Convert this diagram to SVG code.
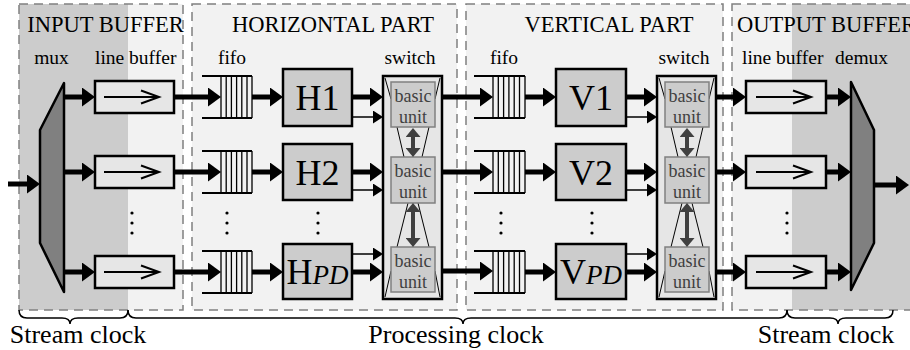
<svg xmlns="http://www.w3.org/2000/svg" width="910" height="350" viewBox="0 0 910 350">
<style>
text{font-family:"Liberation Serif","Times New Roman",serif;fill:#000}
.title{font-size:22.5px}
.lab{font-size:19.5px}
.clk{font-size:26px;text-anchor:middle}
.big{font-size:36px;text-anchor:middle}
.bu{font-size:18px;text-anchor:middle;fill:#404040}
.dash{fill:none;stroke:#808080;stroke-width:1.5;stroke-dasharray:9 6}
.lb{fill:#e6e6e6;stroke:#000;stroke-width:2.5}
.pe{fill:#cccccc;stroke:#000;stroke-width:2.5}
.sw{fill:#e6e6e6;stroke:#000;stroke-width:2.5}
.unit{fill:#cccccc;stroke:#808080;stroke-width:1.5}
.mx{fill:#808080;stroke:#000;stroke-width:2.5;stroke-linejoin:round}
.ff{fill:none;stroke:#000;stroke-width:2}
.fs{fill:none;stroke:#000;stroke-width:1.3}
.fn{fill:none;stroke:#000;stroke-width:1}
.ia{fill:none;stroke:#000;stroke-width:2}
.th{stroke:#000;stroke-width:5;fill:none;marker-end:url(#ah)}
.tn{stroke:#000;stroke-width:1.5;fill:none;marker-end:url(#as)}
.da{stroke:#404040;stroke-width:4;fill:none;marker-start:url(#ad);marker-end:url(#ad)}
.br{fill:none;stroke:#000;stroke-width:1.5}
.dot{fill:#000}
</style>
<defs>
<marker id="ah" markerUnits="userSpaceOnUse" markerWidth="13" markerHeight="19" refX="8" refY="9.5" orient="auto"><path d="M0,0 L13,9.5 L0,19 Z" fill="#000"/></marker>
<marker id="as" markerUnits="userSpaceOnUse" markerWidth="10" markerHeight="13" refX="7" refY="6.5" orient="auto"><path d="M0,0 L10,6.5 L0,13 Z" fill="#000"/></marker>
<marker id="ad" markerUnits="userSpaceOnUse" markerWidth="9" markerHeight="15" refX="5" refY="7.5" orient="auto-start-reverse"><path d="M0,0 L9,7.5 L0,15 Z" fill="#404040"/></marker>
</defs>

<g id="backgrounds">
<rect x="19" y="4" width="109" height="306" fill="#cccccc"/>
<rect x="128" y="4" width="55" height="306" fill="#f2f2f2"/>
<rect x="192" y="4" width="265" height="306" fill="#f2f2f2"/>
<rect x="466" y="4" width="257" height="306" fill="#f2f2f2"/>
<rect x="732" y="4" width="60" height="306" fill="#f2f2f2"/>
<rect x="792" y="4" width="130" height="306" fill="#cccccc"/>
<rect class="dash" x="19" y="4" width="164" height="306"/>
<rect class="dash" x="192" y="4" width="265" height="306"/>
<rect class="dash" x="466" y="4" width="257" height="306"/>
<rect class="dash" x="732" y="4" width="200" height="306"/>
</g>

<g id="titles">
<text class="title" x="105.5" y="32" text-anchor="middle">INPUT BUFFER</text>
<text class="title" x="333" y="32" text-anchor="middle">HORIZONTAL PART</text>
<text class="title" x="609" y="32" text-anchor="middle">VERTICAL PART</text>
<text class="title" x="737" y="32">OUTPUT BUFFER</text>
<text class="lab" x="51.5" y="64" text-anchor="middle">mux</text>
<text class="lab" x="95" y="64">line buffer</text>
<text class="lab" x="232" y="64" text-anchor="middle">fifo</text>
<text class="lab" x="410" y="64" text-anchor="middle">switch</text>
<text class="lab" x="504" y="64" text-anchor="middle">fifo</text>
<text class="lab" x="684" y="64" text-anchor="middle">switch</text>
<text class="lab" x="742" y="64">line buffer</text>
<text class="lab" x="835" y="64">demux</text>
</g>

<g id="mux"><polygon class="mx" points="64,83 64,292 40,243 40,130"/></g>
<g id="demux"><polygon class="mx" points="851,82 874,130 874,243 851,290"/></g>

<g id="linebuf-in-1"><rect class="lb" x="95" y="81" width="79" height="32"/><path class="ia" d="M104,97 H159 M141,90.5 L159,97 L141,103.5"/></g>
<g id="linebuf-in-2"><rect class="lb" x="95" y="156" width="79" height="32"/><path class="ia" d="M104,172 H159 M141,165.5 L159,172 L141,178.5"/></g>
<g id="linebuf-in-3"><rect class="lb" x="95" y="256" width="79" height="32"/><path class="ia" d="M104,272 H159 M141,265.5 L159,272 L141,278.5"/></g>

<g id="linebuf-out-1"><rect class="lb" x="746" y="81" width="80" height="32"/><path class="ia" d="M756,97 H811 M793,90.5 L811,97 L793,103.5"/></g>
<g id="linebuf-out-2"><rect class="lb" x="746" y="156" width="80" height="32"/><path class="ia" d="M756,172 H811 M793,165.5 L811,172 L793,178.5"/></g>
<g id="linebuf-out-3"><rect class="lb" x="746" y="256" width="80" height="32"/><path class="ia" d="M756,272 H811 M793,265.5 L811,272 L793,278.5"/></g>

<g id="fifo-h-1"><path class="ff" d="M202,76 H252 M202,118 H252"/><path class="fs" d="M221,76 V118 M226.2,76 V118 M231.4,76 V118 M236.6,76 V118 M241.8,76 V118 M247,76 V118 M252,76 V118"/></g>
<g id="fifo-h-2"><path class="ff" d="M202,151 H252 M202,193 H252"/><path class="fs" d="M221,151 V193 M226.2,151 V193 M231.4,151 V193 M236.6,151 V193 M241.8,151 V193 M247,151 V193 M252,151 V193"/></g>
<g id="fifo-h-3"><path class="ff" d="M202,251 H252 M202,293 H252"/><path class="fs" d="M221,251 V293 M226.2,251 V293 M231.4,251 V293 M236.6,251 V293 M241.8,251 V293 M247,251 V293 M252,251 V293"/></g>

<g id="fifo-v-1"><path class="ff" d="M474,76 H525 M474,118 H525"/><path class="fs" d="M493,76 V118 M498.3,76 V118 M503.6,76 V118 M508.9,76 V118 M514.2,76 V118 M519.5,76 V118 M525,76 V118"/></g>
<g id="fifo-v-2"><path class="ff" d="M474,151 H525 M474,193 H525"/><path class="fs" d="M493,151 V193 M498.3,151 V193 M503.6,151 V193 M508.9,151 V193 M514.2,151 V193 M519.5,151 V193 M525,151 V193"/></g>
<g id="fifo-v-3"><path class="ff" d="M474,251 H525 M474,293 H525"/><path class="fs" d="M493,251 V293 M498.3,251 V293 M503.6,251 V293 M508.9,251 V293 M514.2,251 V293 M519.5,251 V293 M525,251 V293"/></g>

<g id="H1"><rect class="pe" x="283" y="69" width="69" height="57"/><text class="big" x="317.5" y="110">H1</text></g>
<g id="H2"><rect class="pe" x="283" y="144" width="69" height="56"/><text class="big" x="317.5" y="184.5">H2</text></g>
<g id="HPD"><rect class="pe" x="283" y="244" width="69" height="55"/><text class="big" x="317.5" y="284">H<tspan font-style="italic" font-size="27">PD</tspan></text></g>

<g id="V1"><rect class="pe" x="556" y="69" width="70" height="57"/><text class="big" x="591" y="110">V1</text></g>
<g id="V2"><rect class="pe" x="556" y="144" width="70" height="56"/><text class="big" x="591" y="184.5">V2</text></g>
<g id="VPD"><rect class="pe" x="556" y="244" width="70" height="55"/><text class="big" x="591" y="284">V<tspan font-style="italic" font-size="27">PD</tspan></text></g>

<g id="switch-h">
<rect class="sw" x="383" y="76" width="59" height="223"/>
<path class="fn" d="M385,78 L391,99 M440,78 L435,99 M397,127 L404,157 M429,127 L422,157 M408,203 L397,247 M418,203 L429,247 M391,271 L385,297 M435,271 L440,297"/>
<rect class="unit" x="391" y="82" width="44" height="45"/>
<rect class="unit" x="391" y="157" width="44" height="46"/>
<rect class="unit" x="391" y="247" width="44" height="45"/>
<text class="bu" x="413" y="102">basic</text><text class="bu" x="413" y="123">unit</text>
<text class="bu" x="413" y="177">basic</text><text class="bu" x="413" y="198">unit</text>
<text class="bu" x="413" y="267">basic</text><text class="bu" x="413" y="288">unit</text>
<line class="da" x1="413" y1="132" x2="413" y2="153"/>
<line class="da" x1="413" y1="207" x2="413" y2="243"/>
</g>

<g id="switch-v">
<rect class="sw" x="657" y="76" width="59" height="223"/>
<path class="fn" d="M659,78 L665,99 M714,78 L709,99 M671,127 L678,157 M703,127 L696,157 M682,203 L671,247 M692,203 L703,247 M665,271 L659,297 M709,271 L714,297"/>
<rect class="unit" x="665" y="82" width="44" height="45"/>
<rect class="unit" x="665" y="157" width="44" height="46"/>
<rect class="unit" x="665" y="247" width="44" height="45"/>
<text class="bu" x="687" y="102">basic</text><text class="bu" x="687" y="123">unit</text>
<text class="bu" x="687" y="177">basic</text><text class="bu" x="687" y="198">unit</text>
<text class="bu" x="687" y="267">basic</text><text class="bu" x="687" y="288">unit</text>
<line class="da" x1="687" y1="132" x2="687" y2="153"/>
<line class="da" x1="687" y1="207" x2="687" y2="243"/>
</g>

<g id="dots">
<circle class="dot" cx="132" cy="213" r="1.6"/><circle class="dot" cx="132" cy="223" r="1.6"/><circle class="dot" cx="132" cy="233" r="1.6"/>
<circle class="dot" cx="227" cy="213" r="1.6"/><circle class="dot" cx="227" cy="223" r="1.6"/><circle class="dot" cx="227" cy="233" r="1.6"/>
<circle class="dot" cx="318" cy="213" r="1.6"/><circle class="dot" cx="318" cy="223" r="1.6"/><circle class="dot" cx="318" cy="233" r="1.6"/>
<circle class="dot" cx="501" cy="213" r="1.6"/><circle class="dot" cx="501" cy="223" r="1.6"/><circle class="dot" cx="501" cy="233" r="1.6"/>
<circle class="dot" cx="592" cy="213" r="1.6"/><circle class="dot" cx="592" cy="223" r="1.6"/><circle class="dot" cx="592" cy="233" r="1.6"/>
<circle class="dot" cx="787" cy="213" r="1.6"/><circle class="dot" cx="787" cy="223" r="1.6"/><circle class="dot" cx="787" cy="233" r="1.6"/>
</g>

<g id="connectors">
<line class="th" x1="8" y1="184" x2="35" y2="184"/>
<line class="th" x1="64" y1="97" x2="90" y2="97"/>
<line class="th" x1="64" y1="172" x2="90" y2="172"/>
<line class="th" x1="64" y1="272" x2="90" y2="272"/>
<line class="th" x1="174" y1="97" x2="216" y2="97"/>
<line class="th" x1="174" y1="172" x2="216" y2="172"/>
<line class="th" x1="174" y1="272" x2="216" y2="272"/>
<line class="th" x1="252" y1="97" x2="278" y2="97"/>
<line class="th" x1="252" y1="172" x2="278" y2="172"/>
<line class="th" x1="252" y1="272" x2="278" y2="272"/>
<line class="th" x1="352" y1="97" x2="378" y2="97"/>
<line class="th" x1="352" y1="172" x2="378" y2="172"/>
<line class="th" x1="352" y1="272" x2="378" y2="272"/>
<line class="tn" x1="352" y1="117" x2="380" y2="117"/>
<line class="tn" x1="352" y1="190" x2="380" y2="190"/>
<line class="tn" x1="352" y1="254" x2="380" y2="254"/>
<line class="th" x1="442" y1="97" x2="488" y2="97"/>
<line class="th" x1="442" y1="172" x2="488" y2="172"/>
<line class="th" x1="442" y1="271" x2="488" y2="271"/>
<line class="th" x1="525" y1="97" x2="551" y2="97"/>
<line class="th" x1="525" y1="172" x2="551" y2="172"/>
<line class="th" x1="525" y1="272" x2="551" y2="272"/>
<line class="th" x1="626" y1="97" x2="652" y2="97"/>
<line class="th" x1="626" y1="172" x2="652" y2="172"/>
<line class="th" x1="626" y1="272" x2="652" y2="272"/>
<line class="tn" x1="626" y1="117" x2="654" y2="117"/>
<line class="tn" x1="626" y1="190" x2="654" y2="190"/>
<line class="tn" x1="626" y1="254" x2="654" y2="254"/>
<line class="th" x1="716" y1="97" x2="741" y2="97"/>
<line class="th" x1="716" y1="172" x2="741" y2="172"/>
<line class="th" x1="716" y1="272" x2="741" y2="272"/>
<line class="th" x1="826" y1="97" x2="846" y2="97"/>
<line class="th" x1="826" y1="172" x2="846" y2="172"/>
<line class="th" x1="826" y1="272" x2="846" y2="272"/>
<line class="th" x1="874" y1="185" x2="904" y2="185"/>
</g>

<g id="clocks">
<path class="br" d="M19,310 Q19,318 27,318 L62,318 Q70,318 70,324 Q70,318 78,318 L120,318 Q128,318 128,310"/>
<path class="br" d="M128,310 Q128,318 136,318 L455,318 Q463,318 463,324 Q463,318 471,318 L779,318 Q787,318 787,310"/>
<path class="br" d="M787,310 Q787,318 795,318 L830,318 Q838,318 838,324 Q838,318 846,318 L885,318 Q893,318 893,310"/>
<text class="clk" x="78" y="343">Stream clock</text>
<text class="clk" x="456" y="343">Processing clock</text>
<text class="clk" x="826" y="343">Stream clock</text>
</g>
</svg>
